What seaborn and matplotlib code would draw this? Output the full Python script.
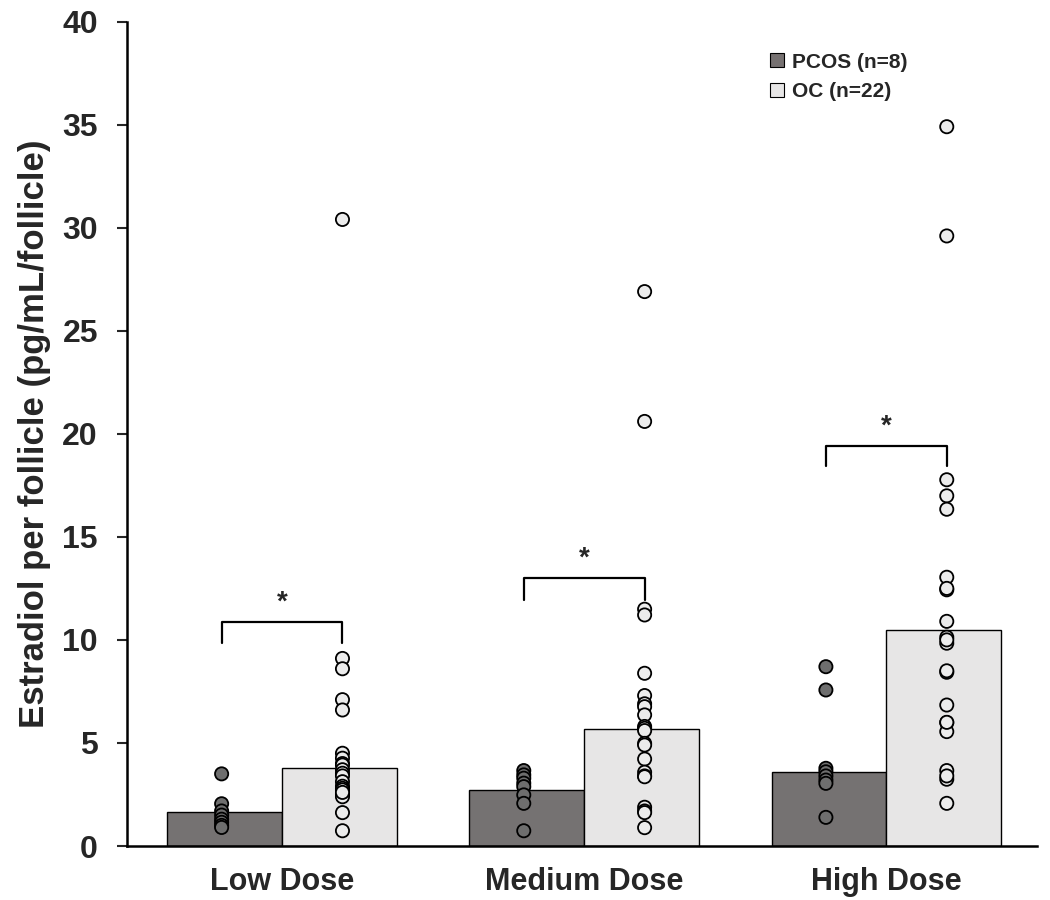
import numpy as np
import pandas as pd
import matplotlib
matplotlib.use("Agg")
import matplotlib.pyplot as plt
import seaborn as sns
from matplotlib.lines import Line2D

# Categories and groups
doses = ["Low Dose", "Medium Dose", "High Dose"]
groups = ["PCOS (n=8)", "OC (n=22)"]

# Bar heights
pcos_bar = [1.64, 2.72, 3.60]
oc_bar = [3.79, 5.68, 10.49]

# Individual points
pcos_low = [3.5, 2.05, 1.7, 1.5, 1.3, 1.15, 1.0, 0.9]
pcos_med = [3.66, 3.45, 3.29, 3.05, 2.88, 2.48, 2.07, 0.74]
pcos_high = [8.7, 7.57, 3.77, 3.6, 3.4, 3.2, 3.04, 1.39]

oc_low = [30.4, 9.1, 8.6, 7.1, 6.6, 4.5, 4.26, 4.0, 3.93, 3.7, 3.53, 3.4,
          3.12, 2.9, 2.8, 2.72, 2.56, 2.5, 2.39, 1.62, 0.74, 2.6]
oc_med = [26.9, 20.6, 11.49, 11.21, 8.38, 7.3, 6.9, 6.76, 6.36, 5.8, 5.71,
          5.6, 4.98, 4.9, 4.22, 3.58, 3.4, 3.36, 1.88, 1.7, 1.62, 0.89]
oc_high = [34.9, 29.6, 17.77, 16.99, 16.34, 13.04, 12.43, 10.9, 10.13, 9.84,
           8.43, 6.84, 5.99, 5.55, 3.66, 3.24, 2.07, 12.5, 10.0, 8.5, 6.0, 3.4]

# Significance brackets: (bottom of legs, top)
bracket_low = [9.85, 10.87]
bracket_med = [11.94, 13.0]
bracket_high = [18.45, 19.4]

bar_df = pd.DataFrame({
    "dose": doses * 2,
    "group": [groups[0]] * 3 + [groups[1]] * 3,
    "value": pcos_bar + oc_bar,
})

pts = []
for d, vals in zip(doses, [pcos_low, pcos_med, pcos_high]):
    pts += [(d, groups[0], v) for v in vals]
for d, vals in zip(doses, [oc_low, oc_med, oc_high]):
    pts += [(d, groups[1], v) for v in vals]
pt_df = pd.DataFrame(pts, columns=["dose", "group", "value"])

sns.set_style("white")
plt.rcParams["font.family"] = ["Liberation Sans", "DejaVu Sans"]
plt.rcParams["font.weight"] = "bold"

fig = plt.figure(figsize=(10.5, 9), dpi=100)
ax = fig.add_axes([0.121, 0.06, 0.867, 0.916])

bar_colors = {groups[0]: "#767171", groups[1]: "#e7e6e6"}
dot_colors = {groups[0]: "#6e6e6e", groups[1]: "#ececec"}

sns.barplot(data=bar_df, x="dose", y="value", hue="group", order=doses,
            hue_order=groups, palette=bar_colors, width=0.76, edgecolor="black",
            linewidth=1.0, errorbar=None, legend=False, ax=ax)
sns.stripplot(data=pt_df, x="dose", y="value", hue="group", order=doses,
              hue_order=groups, palette=dot_colors, dodge=True, jitter=False,
              size=9.5, edgecolor="black", linewidth=1.3, legend=False, ax=ax)

# brackets
for i, (lo, hi) in enumerate([bracket_low, bracket_med, bracket_high]):
    x0, x1 = i - 0.2, i + 0.2
    ax.plot([x0, x0, x1, x1], [lo, hi, hi, lo], color="black", lw=1.6)
    ax.text(i, hi + 0.3, "*", ha="center", va="bottom", fontsize=20,
            fontweight="bold")

ax.set_xlim(-0.513, 2.5)
ax.set_ylim(0, 40)
ax.set_yticks(range(0, 41, 5))
ax.tick_params(axis="y", labelsize=23, length=7, width=1.5, direction="out",
               left=True, pad=14)
ax.tick_params(axis="x", labelsize=22, length=0, pad=15)
for lab in ax.get_xticklabels() + ax.get_yticklabels():
    lab.set_fontweight("bold")
ax.set_xlabel("")
ax.set_ylabel("Estradiol per follicle (pg/mL/follicle)", fontsize=25,
              fontweight="bold", labelpad=8)
for s in ["top", "right"]:
    ax.spines[s].set_visible(False)
for s in ["left", "bottom"]:
    ax.spines[s].set_color("black")
    ax.spines[s].set_linewidth(1.8)

handles = [
    Line2D([], [], marker="s", linestyle="", markersize=10,
           markerfacecolor=bar_colors[g], markeredgecolor="black",
           markeredgewidth=0.8, label=g)
    for g in groups
]
ax.legend(handles=handles, loc="upper left", bbox_to_anchor=(0.682, 0.985),
          frameon=False, prop={"size": 15, "weight": "bold"},
          handletextpad=0.2, labelspacing=0.5, handlelength=1.0)

fig.savefig("out.png", dpi=100)
